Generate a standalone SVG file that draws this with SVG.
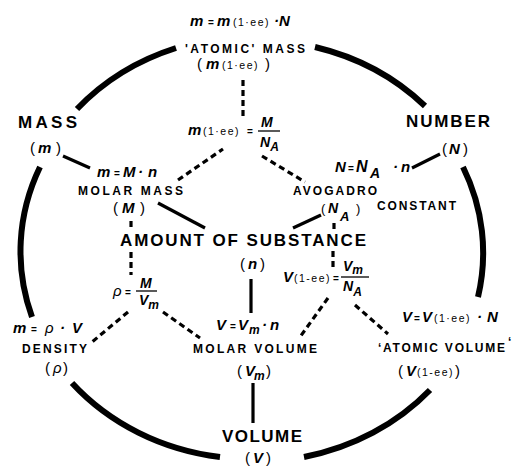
<svg xmlns="http://www.w3.org/2000/svg" width="517" height="473" viewBox="0 0 517 473">
<style>
text{font-family:"Liberation Sans",Arial,sans-serif;fill:#000}
.big{font-size:17px;font-weight:bold}
.lbl{font-size:12px;font-weight:bold}
.v{font-size:15px;font-weight:bold;font-style:italic}
.fv{font-size:14px;font-weight:bold;font-style:italic}
.sub{font-size:12px;font-weight:bold;font-style:italic}
.s{font-size:10.5px;font-weight:normal;font-style:normal;letter-spacing:1.5px}
.eq{font-size:10px;font-weight:bold;font-style:normal}
.p{font-size:15px;font-weight:normal;font-style:normal}
.arc{fill:none;stroke:#000;stroke-width:6}
.sol{stroke:#000;stroke-width:3.2;fill:none}
.dsh{stroke:#000;stroke-width:3.2;stroke-dasharray:6 4;fill:none}
.bar{stroke:#000;stroke-width:1.3}
</style>
<rect width="517" height="473" fill="#fff"/>
<g id="ring">
<path class="arc" d="M77,109 A233,211 0 0 1 176,48"/>
<path class="arc" d="M315,47 A233,211 0 0 1 425,106"/>
<path class="arc" d="M463,167 A233,211 0 0 1 478,297"/>
<path class="arc" d="M430,390 A233,211 0 0 1 304,457"/>
<path class="arc" d="M220,457 A233,211 0 0 1 72,383"/>
<path class="arc" d="M32,317 A233,211 0 0 1 40,167"/>
</g>
<g id="connectors">
<line class="sol" x1="63" y1="156" x2="90" y2="168"/>
<line class="sol" x1="158" y1="203" x2="205" y2="228"/>
<line class="sol" x1="293" y1="228" x2="321" y2="215"/>
<line class="sol" x1="412" y1="168" x2="440" y2="154"/>
<line class="sol" x1="251" y1="279" x2="251" y2="313"/>
<line class="sol" x1="253" y1="383" x2="253" y2="423"/>
<line class="dsh" x1="243" y1="80" x2="243" y2="120"/>
<line class="dsh" x1="178" y1="180" x2="223" y2="149"/>
<line class="dsh" x1="262" y1="156" x2="305" y2="182"/>
<line class="dsh" x1="131" y1="221" x2="131" y2="229"/>
<line class="dsh" x1="131" y1="252" x2="131" y2="275"/>
<line class="dsh" x1="334" y1="223" x2="334" y2="230"/>
<line class="dsh" x1="333" y1="251" x2="333" y2="269"/>
<line class="dsh" x1="128" y1="312" x2="92" y2="342"/>
<line class="dsh" x1="163" y1="312" x2="200" y2="338"/>
<line class="dsh" x1="328" y1="298" x2="300" y2="337"/>
<line class="dsh" x1="355" y1="305" x2="388" y2="334"/>
</g>
<g id="atomic-mass">
<text y="26"><tspan class="v" x="190">m</tspan><tspan class="eq" x="208">=</tspan><tspan class="v" x="217">m</tspan><tspan class="s" x="233">(1·ee)</tspan><tspan class="v" x="274">·N</tspan></text>
<text class="lbl" x="185" y="53" textLength="120" lengthAdjust="spacing">'ATOMIC' MASS</text>
<text y="69"><tspan class="p" x="197">(</tspan><tspan class="v" x="206">m</tspan><tspan class="s" x="222">(1·ee)</tspan><tspan class="p" x="265">)</tspan></text>
</g>
<g id="mass">
<text class="big" x="18" y="128" textLength="59" lengthAdjust="spacing">MASS</text>
<text y="153"><tspan class="p" x="30">(</tspan><tspan class="v" x="38">m</tspan><tspan class="p" x="56">)</tspan></text>
</g>
<g id="number">
<text class="big" x="406" y="127" textLength="84" lengthAdjust="spacing">NUMBER</text>
<text y="154"><tspan class="p" x="442">(</tspan><tspan class="v" x="449">N</tspan><tspan class="p" x="463">)</tspan></text>
</g>
<g id="atomic-mass-formula">
<text y="135"><tspan class="v" x="188">m</tspan><tspan class="s" x="203">(1·ee)</tspan><tspan class="eq" x="247">=</tspan></text>
<text class="fv" x="261" y="127">M</text>
<line class="bar" x1="258" y1="131" x2="280" y2="131"/>
<text x="260" y="147"><tspan class="fv">N</tspan><tspan class="sub" dy="4">A</tspan></text>
</g>
<g id="molar-mass">
<text y="177"><tspan class="v" x="97">m</tspan><tspan class="eq" x="114">=</tspan><tspan class="v" x="123">M</tspan><tspan class="v" x="138">·</tspan><tspan class="v" x="148">n</tspan></text>
<text class="lbl" x="78" y="195" textLength="105" lengthAdjust="spacing">MOLAR MASS</text>
<text y="213"><tspan class="p" x="113">(</tspan><tspan class="v" x="122">M</tspan><tspan class="p" x="140">)</tspan></text>
</g>
<g id="avogadro">
<text y="172"><tspan class="v" x="335">N</tspan><tspan class="eq" x="348">=</tspan><tspan class="v" x="356" style="font-size:16px">N</tspan><tspan class="sub" x="370" y="178" style="font-size:14px">A</tspan><tspan class="v" x="393" y="172">·</tspan><tspan class="v" x="401">n</tspan></text>
<text class="lbl" x="293" y="195" textLength="84" lengthAdjust="spacing">AVOGADRO</text>
<text class="lbl" x="377" y="210" textLength="79" lengthAdjust="spacing">CONSTANT</text>
<text y="213" style="font-size:13px"><tspan class="p" x="321" style="font-size:13px">(</tspan><tspan class="v" x="328" style="font-size:14px">N</tspan><tspan class="sub" x="340" y="221" style="font-size:13px">A</tspan><tspan class="p" x="356" y="213" style="font-size:13px">)</tspan></text>
</g>
<g id="amount">
<text class="big" x="120" y="246" textLength="246" lengthAdjust="spacing">AMOUNT OF SUBSTANCE</text>
<text y="269"><tspan class="p" x="240">(</tspan><tspan class="v" x="248">n</tspan><tspan class="p" x="260">)</tspan></text>
</g>
<g id="density-formula">
<text y="296"><tspan class="v" x="113" style="font-weight:normal">ρ</tspan><tspan class="eq" x="125">=</tspan></text>
<text class="fv" x="140" y="288">M</text>
<line class="bar" x1="136" y1="291" x2="157" y2="291"/>
<text x="139" y="305"><tspan class="fv">V</tspan><tspan class="sub" dy="4">m</tspan></text>
</g>
<g id="atomic-volume-formula">
<text y="282"><tspan class="v" x="283">V</tspan><tspan class="s" x="294">(1-ee)</tspan><tspan class="eq" x="333">=</tspan></text>
<text x="343" y="271"><tspan class="fv">V</tspan><tspan class="sub" dy="3">m</tspan></text>
<line class="bar" x1="341" y1="277" x2="369" y2="277"/>
<text x="343" y="291"><tspan class="fv">N</tspan><tspan class="sub" dy="5">A</tspan></text>
</g>
<g id="density">
<text y="333"><tspan class="v" x="13">m</tspan><tspan class="eq" x="31">=</tspan><tspan class="v" x="45" style="font-weight:normal">ρ</tspan><tspan class="v" x="60">·</tspan><tspan class="v" x="72">V</tspan></text>
<text class="lbl" x="22" y="353" textLength="65" lengthAdjust="spacing">DENSITY</text>
<text y="373"><tspan class="p" x="45">(</tspan><tspan class="v" x="53" style="font-weight:normal">ρ</tspan><tspan class="p" x="63">)</tspan></text>
</g>
<g id="molar-volume">
<text y="330"><tspan class="v" x="216">V</tspan><tspan class="eq" x="230">=</tspan><tspan class="v" x="238">V</tspan><tspan class="sub" x="249" y="334">m</tspan><tspan class="v" x="262" y="330">·</tspan><tspan class="v" x="270">n</tspan></text>
<text class="lbl" x="193" y="353" textLength="124" lengthAdjust="spacing">MOLAR VOLUME</text>
<text y="376"><tspan class="p" x="237">(</tspan><tspan class="v" x="245">V</tspan><tspan class="sub" x="254" y="380">m</tspan><tspan class="p" x="266" y="376">)</tspan></text>
</g>
<g id="atomic-volume">
<text y="322"><tspan class="v" x="402">V</tspan><tspan class="eq" x="414">=</tspan><tspan class="v" x="422">V</tspan><tspan class="s" x="434">(1·ee)</tspan><tspan class="v" x="477">·</tspan><tspan class="v" x="487">N</tspan></text>
<text class="lbl" y="352"><tspan x="378">‘</tspan><tspan x="383" textLength="122" lengthAdjust="spacing">ATOMIC VOLUME</tspan><tspan x="508" dy="-6">‘</tspan></text>
<text y="376"><tspan class="p" x="398">(</tspan><tspan class="v" x="406">V</tspan><tspan class="s" x="417">(1-ee)</tspan><tspan class="p" x="455">)</tspan></text>
</g>
<g id="volume">
<text class="big" x="222" y="442" textLength="80" lengthAdjust="spacing">VOLUME</text>
<text y="463"><tspan class="p" x="245">(</tspan><tspan class="v" x="253">V</tspan><tspan class="p" x="266">)</tspan></text>
</g>
</svg>
